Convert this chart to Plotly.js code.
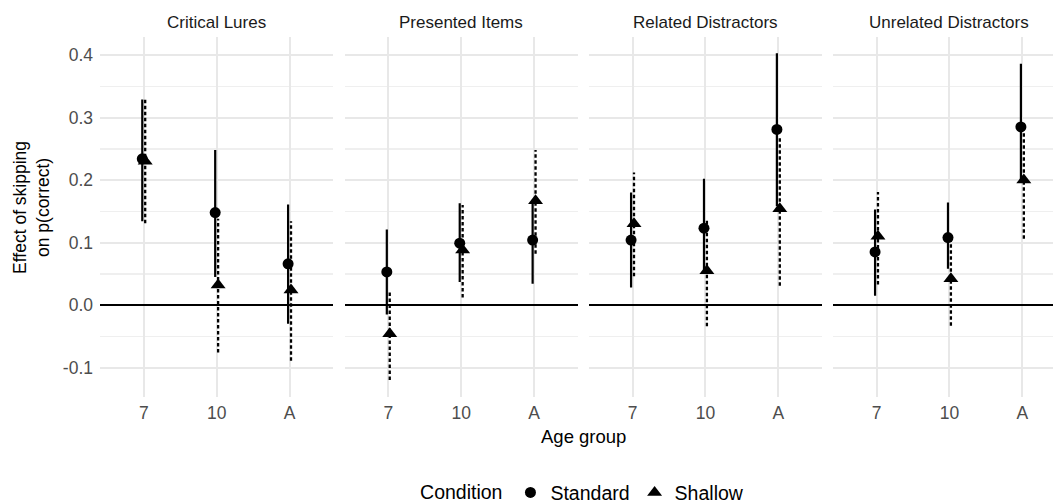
<!DOCTYPE html>
<html>
<head>
<meta charset="utf-8">
<script src="https://cdn.plot.ly/plotly-3.0.1.min.js"></script>
<style>
  html, body { margin: 0; padding: 0; background: #ffffff; }
  #chart { width: 1053px; height: 504px; }
</style>
</head>
<body>
<div id="chart"></div>
<script>
// ---------------- data ----------------
const panels = ['Critical Lures', 'Presented Items', 'Related Distractors', 'Unrelated Distractors'];
const ageGroups = ['7', '10', 'A'];
const conditions = ['Standard', 'Shallow'];

// values listed panel by panel, age groups 7, 10, A
const standardEst   = [0.234, 0.148, 0.066,   0.053, 0.099, 0.104,   0.104, 0.123, 0.281,   0.085, 0.108, 0.285];
const standardLower = [0.134, 0.045, -0.030, -0.015, 0.037, 0.034,   0.028, 0.050, 0.158,   0.015, 0.058, 0.200];
const standardUpper = [0.329, 0.248, 0.161,   0.121, 0.163, 0.165,   0.180, 0.202, 0.403,   0.153, 0.164, 0.386];

const shallowEst    = [0.230, 0.032, 0.024,  -0.046, 0.088, 0.167,   0.130, 0.055, 0.154,   0.110, 0.042, 0.200];
const shallowLower  = [0.131, -0.076, -0.089, -0.120, 0.012, 0.082,  0.046, -0.034, 0.031,  0.033, -0.033, 0.106];
const shallowUpper  = [0.330, 0.138, 0.134,   0.023, 0.160, 0.248,   0.212, 0.137, 0.270,   0.181, 0.105, 0.277];

const yTickVals  = [-0.1, 0.0, 0.1, 0.2, 0.3, 0.4];
const yTickText  = ['-0.1', '0.0', '0.1', '0.2', '0.3', '0.4'];

// ---------------- layout constants ----------------
const FONT = 'Liberation Sans, Arial, Helvetica, sans-serif';
const dodge = 0.02;
const domains = [[0, 0.2448], [0.2566, 0.5014], [0.5129, 0.7577], [0.7689, 1]];
const xRanges = [[0.4, 3.6], [0.4, 3.6], [0.4, 3.6], [0.4, 3.42]];
const catPos = ageGroups.map((g, i) => i + 1);

const traces = [];
const layout = {
  width: 1053, height: 504,
  margin: {l: 100, r: 0, t: 37, b: 107, pad: 0, autoexpand: false},
  paper_bgcolor: '#ffffff', plot_bgcolor: '#ffffff',
  font: {family: FONT, color: '#000000'},
  showlegend: true,
  legend: {
    orientation: 'h', x: 0.5074, xanchor: 'center', y: -0.266, yanchor: 'middle',
    title: {text: 'Condition', side: 'left', font: {size: 19.5, color: '#000000', family: FONT}},
    font: {size: 19.5, color: '#000000', family: FONT},
    itemwidth: 30, tracegroupgap: 0
  },
  annotations: [],
  yaxis: {
    range: [-0.147, 0.4288], automargin: false,
    tickmode: 'array', tickvals: yTickVals, ticktext: yTickText,
    tickfont: {size: 17.5, color: '#4d4d4d', family: FONT},
    ticks: '', ticklabelstandoff: 6,
    showgrid: true, gridcolor: '#e8e8e8', gridwidth: 2,
    minor: {dtick: 0.05, tick0: 0, showgrid: true, gridcolor: '#efefef', gridwidth: 1.5, ticks: ''},
    zeroline: true, zerolinecolor: '#000000', zerolinewidth: 2,
    showline: false, anchor: 'x', fixedrange: true
  }
};

function barXY(offset, lower, upper, base) {
  const xs = [], ys = [];
  catPos.forEach((p, i) => {
    xs.push(p + offset, p + offset, null);
    ys.push(lower[base + i], upper[base + i], null);
  });
  return {xs, ys};
}

panels.forEach((name, k) => {
  const xa = k === 0 ? 'x' : 'x' + (k + 1);
  const xkey = k === 0 ? 'xaxis' : 'xaxis' + (k + 1);
  const base = k * ageGroups.length;

  layout[xkey] = {
    domain: domains[k], range: xRanges[k], anchor: 'y', automargin: false,
    tickmode: 'array', tickvals: catPos, ticktext: ageGroups,
    tickfont: {size: 17.5, color: '#4d4d4d', family: FONT},
    ticks: '', ticklabelstandoff: 3,
    showgrid: true, gridcolor: '#e8e8e8', gridwidth: 2,
    zeroline: false, showline: false, fixedrange: true
  };

  // Standard: solid interval + circle
  const sb = barXY(-dodge, standardLower, standardUpper, base);
  traces.push({
    type: 'scatter', mode: 'lines', x: sb.xs, y: sb.ys, xaxis: xa, yaxis: 'y',
    line: {color: '#000000', width: 2.2}, showlegend: false, hoverinfo: 'skip',
    connectgaps: false
  });
  traces.push({
    type: 'scatter', mode: 'markers', name: conditions[0], legendgroup: 'std',
    x: catPos.map(p => p - dodge), y: standardEst.slice(base, base + 3),
    xaxis: xa, yaxis: 'y', showlegend: k === 0,
    marker: {symbol: 'circle', size: 11, color: '#000000', line: {width: 0}}
  });

  // Shallow: dotted interval + triangle
  const hb = barXY(dodge, shallowLower, shallowUpper, base);
  traces.push({
    type: 'scatter', mode: 'lines', x: hb.xs, y: hb.ys, xaxis: xa, yaxis: 'y',
    line: {color: '#000000', width: 2.3, dash: '3.5px,2.5px'}, showlegend: false, hoverinfo: 'skip',
    connectgaps: false
  });
  traces.push({
    type: 'scatter', mode: 'markers', name: conditions[1], legendgroup: 'sha',
    x: catPos.map(p => p + dodge), y: shallowEst.slice(base, base + 3),
    xaxis: xa, yaxis: 'y', showlegend: k === 0,
    marker: {symbol: 'triangle-up', size: 13, color: '#000000', line: {width: 0}}
  });

  // facet strip title
  layout.annotations.push({
    text: name, xref: xa, x: 2, yref: 'paper', y: 1, yanchor: 'bottom', yshift: 3,
    showarrow: false, font: {size: 17, color: '#1a1a1a', family: FONT}
  });
});

// axis titles
layout.annotations.push({
  text: 'Age group', xref: 'paper', x: 0.5074, yref: 'paper', y: -0.111, yanchor: 'middle',
  showarrow: false, font: {size: 18.5, color: '#000000', family: FONT}
});
layout.annotations.push({
  text: 'Effect of skipping<br>on p(correct)', xref: 'paper', x: -0.0714, xanchor: 'center',
  yref: 'paper', y: 0.528, yanchor: 'middle', textangle: -90,
  showarrow: false, font: {size: 17.5, color: '#000000', family: FONT}
});

Plotly.newPlot('chart', traces, layout, {displayModeBar: false, staticPlot: true});
</script>
</body>
</html>
